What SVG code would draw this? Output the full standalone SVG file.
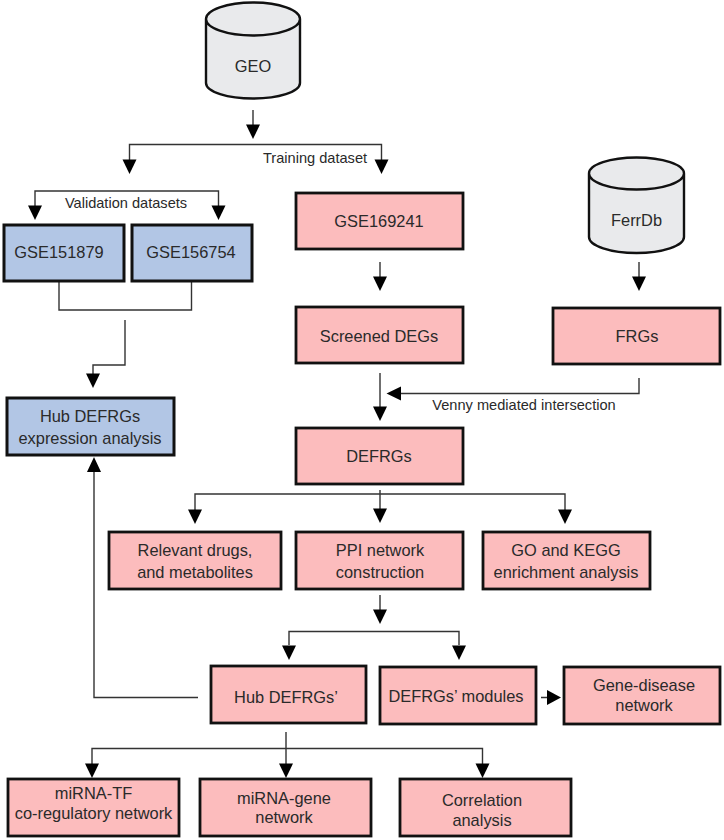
<svg xmlns="http://www.w3.org/2000/svg" width="724" height="840" viewBox="0 0 724 840">
<style>
text{font-family:"Liberation Sans",Arial,sans-serif;font-size:16.4px;fill:#2a2a2a;text-anchor:middle}
text.s{font-size:14.6px}
.p{fill:#fcbcbd;stroke:#111;stroke-width:2.8}
.b{fill:#b2c6e5;stroke:#111;stroke-width:3}
.c{fill:#e9eaec;stroke:#111;stroke-width:2.4}
.l{fill:none;stroke:#333;stroke-width:1.4}
.a{fill:#000;stroke:none}
</style>
<defs><path id="ah" class="a" d="M-7 -14.500H7L0 0Z"/></defs>
<rect width="724" height="840" fill="#fff"/>
<g id="connectors">
<path class="l" d="M253 110V126M129.500 160V144.500H381.500V160M35 206V191H218.500V206M380 262V277M59 282V310H191.500V282M125 320V365H93V376M639 262V277M380 373V408M639 378V393.500H398M380 490V510M195 510V494H565V510M380 595V610M289 645V631.500H459V645M198 697.500H94V470M541 697.500H552M286 732V768M92 765V748.500H482.500V765"/>
<use href="#ah" x="253" y="139"/><use href="#ah" x="129.500" y="174"/><use href="#ah" x="381.500" y="174"/>
<use href="#ah" x="35" y="220"/><use href="#ah" x="218.500" y="220"/><use href="#ah" x="380" y="291"/>
<use href="#ah" x="639" y="291"/><use href="#ah" x="380" y="421"/><use href="#ah" x="93" y="388"/>
<use href="#ah" x="195" y="524"/><use href="#ah" x="380" y="523"/><use href="#ah" x="565" y="524"/>
<use href="#ah" x="380" y="624"/><use href="#ah" x="289" y="660"/><use href="#ah" x="459" y="660"/>
<use href="#ah" x="92" y="778"/><use href="#ah" x="286" y="778"/><use href="#ah" x="482.500" y="778"/>
<path class="a" d="M386.500 393.500L401 386.500V400.500Z"/>
<path class="a" d="M94 457L101 472H87Z"/>
<path class="a" d="M547 690L561 697.500L547 705Z"/>
<text class="s" x="315" y="163">Training dataset</text>
<text class="s" x="126" y="208">Validation datasets</text>
<text class="s" x="524" y="410">Venny mediated intersection</text>
</g>
<g id="geo"><path class="c" d="M206 19V83C206 92 228 98.500 253 98.500C278 98.500 300 92 300 83V19A47 16.500 0 0 0 206 19A47 16.500 0 0 0 300 19"/><text x="253" y="72">GEO</text></g>
<g id="ferrdb"><path class="c" d="M589 173.500V237C589 246 611 253 636.500 253C662 253 684 246 684 237V173.500A47.500 16 0 0 0 589 173.500A47.500 16 0 0 0 684 173.500"/><text x="636.500" y="226">FerrDb</text></g>
<g id="gse151879"><rect class="b" x="4" y="225" width="120" height="56"/><text x="59" y="258">GSE151879</text></g>
<g id="gse156754"><rect class="b" x="132" y="225" width="120" height="56"/><text x="191" y="258">GSE156754</text></g>
<g id="gse169241"><rect class="p" x="296" y="193" width="167" height="56"/><text x="379" y="227">GSE169241</text></g>
<g id="degs"><rect class="p" x="296" y="307" width="167" height="56"/><text x="379" y="342">Screened DEGs</text></g>
<g id="frgs"><rect class="p" x="553" y="308" width="167" height="56"/><text x="637" y="342">FRGs</text></g>
<g id="hubexpr"><rect class="b" x="7" y="398" width="167" height="57"/><text x="90" y="422">Hub DEFRGs</text><text x="90" y="444">expression analysis</text></g>
<g id="defrgs"><rect class="p" x="296" y="428" width="167" height="56"/><text x="379" y="462">DEFRGs</text></g>
<g id="drugs"><rect class="p" x="109" y="532" width="172" height="57"/><text x="195" y="556">Relevant drugs,</text><text x="195" y="578">and metabolites</text></g>
<g id="ppi"><rect class="p" x="296" y="532" width="167" height="57"/><text x="380" y="556">PPI network</text><text x="380" y="578">construction</text></g>
<g id="go"><rect class="p" x="483" y="532" width="167" height="57"/><text x="566" y="556">GO and KEGG</text><text x="566" y="578">enrichment analysis</text></g>
<g id="hub"><rect class="p" x="211" y="666" width="155" height="57"/><text x="286" y="703">Hub DEFRGs’</text></g>
<g id="modules"><rect class="p" x="380" y="667" width="156" height="57"/><text x="456" y="702">DEFRGs’ modules</text></g>
<g id="gd"><rect class="p" x="564" y="667" width="156" height="57"/><text x="644" y="691">Gene-disease</text><text x="644" y="711">network</text></g>
<g id="tf"><rect class="p" x="8" y="779" width="171" height="57"/><text x="93.500" y="799">miRNA-TF</text><text x="93.500" y="819">co-regulatory network</text></g>
<g id="mg"><rect class="p" x="200" y="779" width="171" height="57"/><text x="284" y="804">miRNA-gene</text><text x="284" y="823">network</text></g>
<g id="corr"><rect class="p" x="400" y="779" width="171" height="57"/><text x="482" y="806">Correlation</text><text x="482" y="826">analysis</text></g>
</svg>
